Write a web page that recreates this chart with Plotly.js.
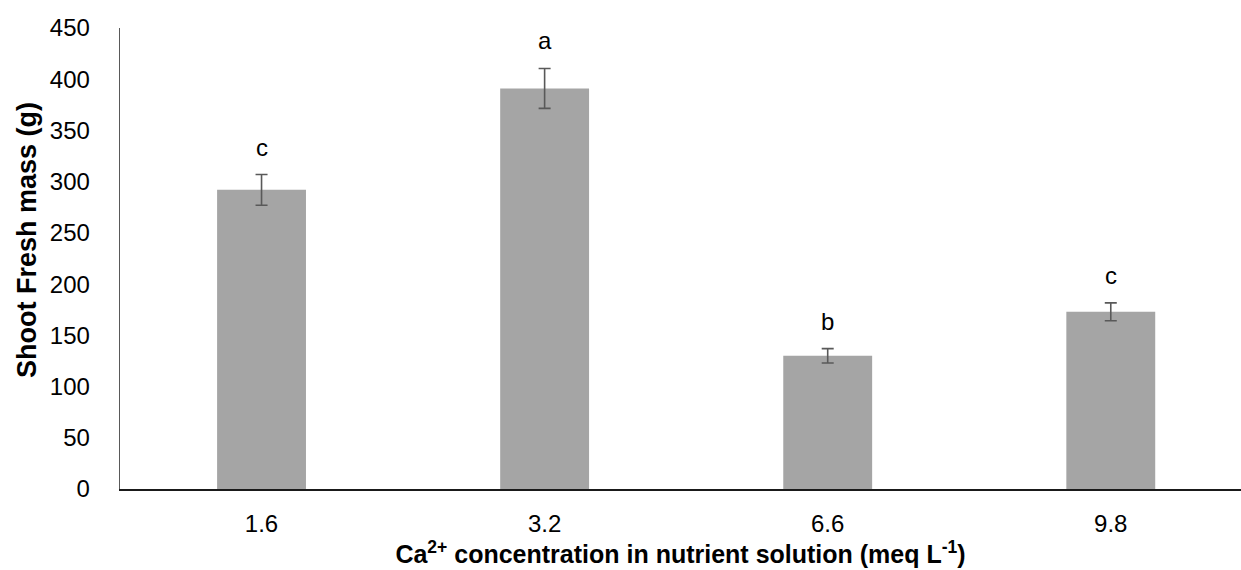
<!DOCTYPE html>
<html>
<head>
<meta charset="utf-8">
<script src="https://cdn.plot.ly/plotly-3.0.1.min.js"></script>
<style>
  html, body { margin: 0; padding: 0; background: #fff; }
  #chart { width: 1241px; height: 570px; }
</style>
</head>
<body>
<div id="chart"></div>
<script>
// Ca2+ treatments (meq L-1) and shoot fresh mass (g)
const concentrations = ['1.6', '3.2', '6.6', '9.8'];
const freshMass = [292, 391, 130, 173];
const standardError = [15, 19.5, 7, 8.7];
const groupLetters = ['c', 'a', 'b', 'c'];

const font = 'Liberation Sans, Arial, sans-serif';

const bars = {
  type: 'bar',
  x: concentrations,
  y: freshMass,
  marker: { color: '#A5A5A5' },
  error_y: {
    type: 'data',
    array: standardError,
    visible: true,
    color: '#595959',
    thickness: 1.6,
    width: 6
  },
  hoverinfo: 'x+y'
};

// significance letters sit above each error bar (x is the category index)
const letters = concentrations.map((c, i) => ({
  x: i,
  y: freshMass[i] + standardError[i],
  text: groupLetters[i],
  showarrow: false,
  xref: 'x',
  yref: 'y',
  yanchor: 'bottom',
  yshift: 12,
  font: { family: font, size: 24, color: '#000' }
}));

// vertical axis title, placed as a rotated annotation
const yTitle = {
  text: '<b>Shoot Fresh mass (g)</b>',
  textangle: -90,
  showarrow: false,
  xref: 'paper',
  yref: 'paper',
  x: 0,
  y: 0.54,
  xanchor: 'center',
  yanchor: 'middle',
  xshift: -93,
  font: { family: font, size: 27, color: '#000' }
};

const layout = {
  width: 1241,
  height: 570,
  margin: { l: 120, r: 0, t: 28, b: 81 },
  paper_bgcolor: '#fff',
  plot_bgcolor: '#fff',
  showlegend: false,
  bargap: 0.686,
  font: { family: font, size: 24, color: '#000' },
  xaxis: {
    type: 'category',
    range: [-0.5, 3.46],
    showgrid: false,
    zeroline: false,
    showline: true,
    linecolor: '#1a1a1a',
    linewidth: 2,
    ticks: '',
    ticklabelstandoff: 12,
    tickfont: { family: font, size: 24, color: '#000' },
    title: {
      text: 'Ca<sup>2+</sup> concentration in nutrient solution (meq L<sup>-1</sup>)',
      font: { family: font, size: 25, color: '#000', weight: 'bold' },
      standoff: 6
    }
  },
  yaxis: {
    range: [0, 450],
    dtick: 50,
    showgrid: false,
    zeroline: false,
    showline: true,
    linecolor: '#595959',
    linewidth: 1.3,
    ticks: '',
    ticklabelstandoff: 24,
    tickfont: { family: font, size: 24, color: '#000' }
  },
  annotations: letters.concat([yTitle])
};

Plotly.newPlot('chart', [bars], layout, { displayModeBar: false, staticPlot: true });
</script>
</body>
</html>
